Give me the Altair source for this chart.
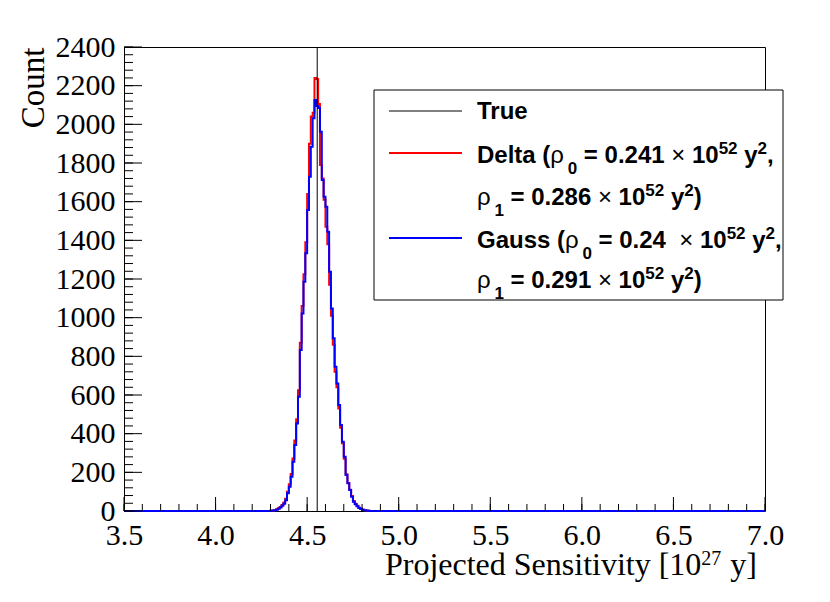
import altair as alt
import numpy as np
import pandas as pd

# ---------------- data ----------------
X_MIN, X_MAX = 3.5, 7.0
Y_MIN, Y_MAX = 0, 2400
BIN_START = 4.30          # first non-empty bin (lower edge)
BIN_WIDTH = 0.01
TRUE_VALUE = 4.555

delta_counts = [1, 3, 5, 9, 14, 21, 31, 44, 64, 100,
                138, 192, 272, 365, 475, 625, 870, 1060, 1225, 1390,
                1640, 1900, 2040, 2060, 2240, 2235, 2105, 1790, 1720, 1610,
                1470, 1380, 1170, 1010, 860, 720, 640, 530, 430, 350,
                270, 190, 145, 110, 78, 52, 38, 27, 17, 11,
                7, 4, 2, 1, 0]
gauss_counts = [1, 2, 4, 7, 12, 18, 27, 38, 55, 92,
                126, 177, 255, 341, 453, 591, 833, 1022, 1186, 1333,
                1557, 1729, 1884, 2031, 2126, 2095, 2085, 1962, 1712, 1626,
                1574, 1445, 1238, 1048, 893, 746, 660, 548, 445, 358,
                281, 186, 143, 109, 74, 48, 35, 25, 15, 10,
                6, 4, 2, 1, 0]

x_major = [3.5, 4.0, 4.5, 5.0, 5.5, 6.0, 6.5, 7.0]
x_minor = [round(3.5 + 0.1 * i, 2) for i in range(36)]
y_major = list(range(0, 2401, 200))
y_minor = list(range(0, 2401, 40))

W, H = 641, 464

def hist_df(counts):
    xs = [X_MIN] + [round(BIN_START + BIN_WIDTH * i, 4) for i in range(len(counts))] + [X_MAX]
    ys = [0] + list(counts) + [0]
    return pd.DataFrame({"x": xs, "y": ys})

SERIF = "Liberation Serif"
SANS = "Liberation Sans"

x_axis = alt.Axis(values=x_major, format=".1f", labelFont=SERIF, labelFontSize=30,
                  labelPadding=9, ticks=False, domain=False, grid=False, title=None,
                  labelFlush=False, labelOverlap=False, labelColor="black")
y_axis = alt.Axis(values=y_major, format="d", labelFont=SERIF, labelFontSize=30,
                  labelPadding=9, ticks=False, domain=False, grid=False,
                  labelFlush=False, labelOverlap=False, labelColor="black",
                  title="Count", titleFont=SERIF, titleFontSize=33, titleFontWeight="normal",
                  titleAngle=270, titleAlign="right", titleBaseline="alphabetic",
                  titleX=-81, titleY=0, titleColor="black")
xs = alt.Scale(domain=[X_MIN, X_MAX], nice=False, zero=False)
ys = alt.Scale(domain=[Y_MIN, Y_MAX], nice=False, zero=False)

def XE():
    return alt.X("x:Q", scale=xs, axis=x_axis)

def YE():
    return alt.Y("y:Q", scale=ys, axis=y_axis)

red = alt.Chart(hist_df(delta_counts)).mark_line(
    interpolate="step-after", color="#ff0000", strokeWidth=2).encode(x=XE(), y=YE())
blue = alt.Chart(hist_df(gauss_counts)).mark_line(
    interpolate="step-after", color="#0000ff", strokeWidth=2).encode(x=XE(), y=YE())
true_line = alt.Chart(pd.DataFrame({"x": [TRUE_VALUE]})).mark_rule(
    color="black", strokeWidth=1).encode(x=XE())

xmaj_t = alt.Chart(pd.DataFrame({"x": x_major})).mark_rule(color="black", strokeWidth=1).encode(
    x=XE(), y=alt.value(H), y2=alt.value(H - 14))
xmin_t = alt.Chart(pd.DataFrame({"x": x_minor})).mark_rule(color="black", strokeWidth=1).encode(
    x=XE(), y=alt.value(H), y2=alt.value(H - 7))
ymaj_t = alt.Chart(pd.DataFrame({"y": y_major})).mark_rule(color="black", strokeWidth=1).encode(
    y=YE(), x=alt.value(0), x2=alt.value(18))
ymin_t = alt.Chart(pd.DataFrame({"y": y_minor})).mark_rule(color="black", strokeWidth=1).encode(
    y=YE(), x=alt.value(0), x2=alt.value(9))

# ---------------- text helpers ----------------
ONE = alt.Data(values=[{"a": 1}])
SANS_B = {' ': .278, '(': .333, ')': .333, ',': .278, '.': .278, '=': .584,
          'D': .722, 'e': .556, 'l': .278, 't': .333, 'a': .556, 'G': .778,
          'u': .611, 's': .556, 'y': .556, 'T': .611, 'r': .389, 'ρ': .60, '×': .584}
SERIF_W = {' ': .25, 'P': .556, 'r': .333, 'o': .5, 'j': .278, 'e': .444, 'c': .444,
           't': .278, 'd': .5, 'S': .556, 'n': .5, 's': .389, 'i': .278, 'v': .5,
           'y': .5, '[': .333, ']': .333}

def wid(txt, table, size):
    return sum(table.get(c, .556 if table is SANS_B else .5) for c in txt) * size

def piece(x, y, txt, size, font, weight, align="left"):
    return alt.Chart(ONE).mark_text(
        align=align, baseline="alphabetic", font=font, fontSize=size,
        fontWeight=weight, color="black").encode(
        x=alt.value(x), y=alt.value(y), text=alt.value(txt))

def legend_row(pieces, x0, base):
    out = []
    x = x0
    for txt, st in pieces:
        size = 24 if st in ("b", "n") else 17
        dy = {"b": 0, "n": 0, "sub": 11, "sup": -9}[st]
        lead = len(txt) - len(txt.lstrip(" "))
        trail = len(txt) - len(txt.rstrip(" "))
        core = txt.strip(" ")
        x += lead * SANS_B[' '] * 24
        out.append(piece(x, base + dy, core, size, SANS,
                         "normal" if st == "n" else "bold"))
        x += wid(core, SANS_B, size) + (3 if core == "ρ" else 0)
        x += trail * SANS_B[' '] * 24
    return out

# legend box and samples
box = alt.Chart(ONE).mark_rect(fill="white", stroke="black", strokeWidth=1).encode(
    x=alt.value(250), x2=alt.value(659), y=alt.value(43), y2=alt.value(253))
s_true = alt.Chart(ONE).mark_rule(color="black", strokeWidth=1).encode(
    x=alt.value(265), x2=alt.value(338), y=alt.value(64))
s_red = alt.Chart(ONE).mark_rule(color="#ff0000", strokeWidth=2).encode(
    x=alt.value(265), x2=alt.value(338), y=alt.value(106))
s_blue = alt.Chart(ONE).mark_rule(color="#0000ff", strokeWidth=2).encode(
    x=alt.value(265), x2=alt.value(338), y=alt.value(191))

TX = 353
leg_text = []
leg_text += legend_row([("True", "b")], TX, 72)
leg_text += legend_row([("Delta (", "b"), ("ρ", "n"), ("0", "sub"), (" = 0.241 ", "b"), ("×", "n"),
                        (" 10", "b"), ("52", "sup"), (" y", "b"), ("2", "sup"), (",", "b")], TX, 116)
leg_text += legend_row([("ρ", "n"), ("1", "sub"), (" = 0.286 ", "b"), ("×", "n"),
                        (" 10", "b"), ("52", "sup"), (" y", "b"), ("2", "sup"), (")", "b")], TX, 158)
leg_text += legend_row([("Gauss (", "b"), ("ρ", "n"), ("0", "sub"), (" = 0.24  ", "b"), ("×", "n"),
                        (" 10", "b"), ("52", "sup"), (" y", "b"), ("2", "sup"), (",", "b")], TX, 201)
leg_text += legend_row([("ρ", "n"), ("1", "sub"), (" = 0.291 ", "b"), ("×", "n"),
                        (" 10", "b"), ("52", "sup"), (" y", "b"), ("2", "sup"), (")", "b")], TX, 241)

# x axis title with superscript, right aligned near the axis end
TF = 32
t_right = 633
t_base = 528
xt = [piece(t_right, t_base, "y]", TF, SERIF, "normal", align="right")]
sup_right = t_right - wid("y]", SERIF_W, TF) - 9
xt.append(piece(sup_right, t_base - 10, "27", 20, SERIF, "normal", align="right"))
main_right = sup_right - 20
xt.append(piece(main_right, t_base, "Projected Sensitivity [10", TF, SERIF, "normal", align="right"))

chart = alt.layer(red, blue, true_line, xmaj_t, xmin_t, ymaj_t, ymin_t,
                  box, s_true, s_red, s_blue, *leg_text, *xt).properties(
    width=W, height=H,
    autosize=alt.AutoSizeParams(type="none"),
    padding={"left": 116, "top": 39, "right": 50, "bottom": 75},
    background="white",
).configure_view(stroke="black", strokeWidth=1)

chart.save("out.html", embed_options={"renderer": "svg", "actions": False})
